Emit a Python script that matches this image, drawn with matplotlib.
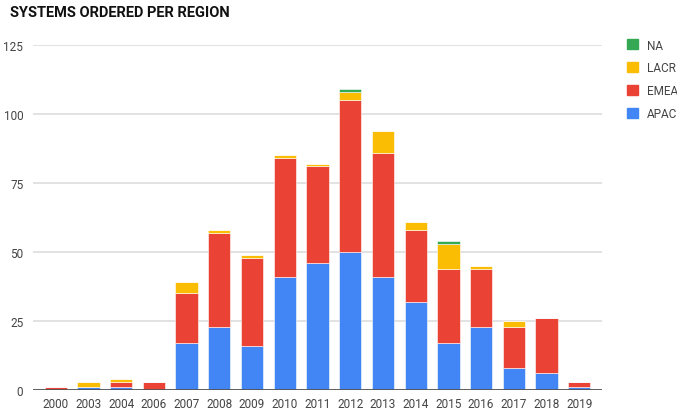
import matplotlib.pyplot as plt
import numpy as np
from matplotlib.patches import Patch

# data
years = ["2000", "2003", "2004", "2006", "2007", "2008", "2009", "2010", "2011",
         "2012", "2013", "2014", "2015", "2016", "2017", "2018", "2019"]
apac = [0, 1, 1, 0, 17, 23, 16, 41, 46, 50, 41, 32, 17, 23, 8, 6, 1]
emea = [1, 0, 2, 3, 18, 34, 32, 43, 35, 55, 45, 26, 27, 21, 15, 20, 2]
lacr = [0, 2, 1, 0, 4, 1, 1, 1, 1, 3, 8, 3, 9, 1, 2, 0, 0]
na = [0, 0, 0, 0, 0, 0, 0, 0, 0, 1, 0, 0, 1, 0, 0, 0, 0]
y_ticks = [0, 25, 50, 75, 100, 125]

series = [("APAC", apac, "#4285F4"), ("EMEA", emea, "#EA4335"),
          ("LACR", lacr, "#FBBC04"), ("NA", na, "#34A853")]

plt.rcParams["font.family"] = ["Roboto", "DejaVu Sans"]

fig = plt.figure(figsize=(6.77, 4.10), dpi=100)
ax = fig.add_axes([33 / 677, 19 / 410, 569 / 677, 345 / 410])

x = np.arange(len(years))
bottom = np.zeros(len(years))
for name, vals, color in series:
    vals = np.array(vals, dtype=float)
    ax.bar(x, vals, width=0.68, bottom=bottom, color=color,
           edgecolor="white", linewidth=0.4, zorder=3)
    bottom += vals

ax.set_xlim(-0.695, len(years) - 1 + 0.695)
ax.set_ylim(0, 125)
ax.set_yticks(y_ticks)
ax.set_xticks(x)
ax.set_xticklabels(years)
ax.yaxis.grid(True, color="#dddddd", linewidth=1.2, zorder=0)
ax.axhline(0, color="#555555", linewidth=1.3, zorder=4)
ax.tick_params(axis="both", length=0, labelsize=8.5, labelcolor="#444444")
ax.tick_params(axis="y", pad=7)
ax.tick_params(axis="x", pad=5)
for s in ax.spines.values():
    s.set_visible(False)

fig.text(10 / 677, 1 - 13 / 410, "SYSTEMS ORDERED PER REGION", fontsize=10.5,
         fontweight="bold", color="#111111", va="center", ha="left")

handles = [Patch(color=c) for _, _, c in series[::-1]]
labels = [n for n, _, _ in series[::-1]]
fig.legend(handles, labels, loc="upper left", bbox_to_anchor=(627 / 677, 1 - 39.5 / 410),
           frameon=False, fontsize=8.5, handlelength=0.93, handleheight=0.93,
           handletextpad=0.76, labelspacing=0.84, borderpad=0, borderaxespad=0,
           labelcolor="#444444")

fig.savefig("out.png", dpi=100)
